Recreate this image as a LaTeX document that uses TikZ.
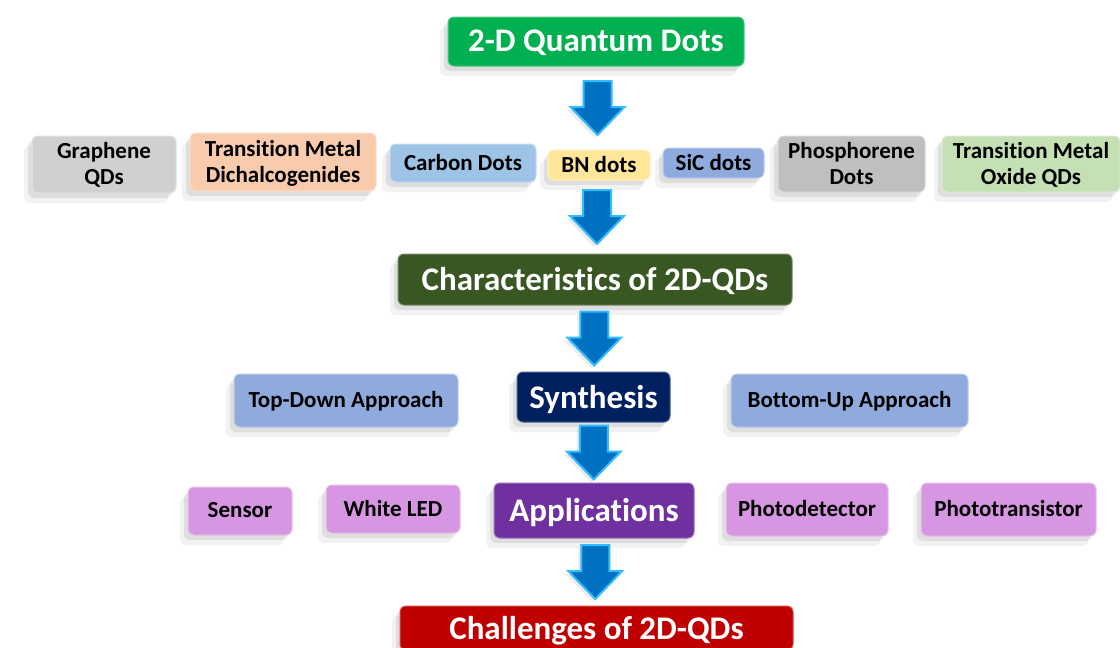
\documentclass[tikz,border=0pt]{standalone}
\usepackage{fontspec}
\setmainfont{Carlito}[Ligatures=NoCommon]
\usetikzlibrary{shadows,calc}

\definecolor{qdgreen}{RGB}{0,176,80}
\definecolor{qdgray}{RGB}{208,208,208}
\definecolor{qdgraydark}{RGB}{191,191,191}
\definecolor{qdpeach}{RGB}{248,203,173}
\definecolor{qdsky}{RGB}{157,195,230}
\definecolor{qdyellow}{RGB}{255,230,153}
\definecolor{qdsteel}{RGB}{143,170,220}
\definecolor{qdmint}{RGB}{197,224,180}
\definecolor{qdforest}{RGB}{56,87,35}
\definecolor{qdnavy}{RGB}{0,32,96}
\definecolor{qdpink}{RGB}{215,150,225}
\definecolor{qdpurple}{RGB}{112,48,160}
\definecolor{qdred}{RGB}{192,0,0}
\definecolor{arrowfill}{RGB}{0,112,192}
\definecolor{arrowrim}{RGB}{51,187,255}

% block arrow between two stacked nodes
\newcommand{\flowarrow}[2]{%
  \coordinate (#1-#2) at ($(#1.south)!0.5!(#2.north)$);
  \draw[flowarrow] (#1-#2) ++(-14,-27) -- ++(28,0) -- ++(0,26) -- ++(13,0)
    -- ++(-27,28) -- ++(-27,-28) -- ++(13,0) -- cycle;}

\begin{document}
\begin{tikzpicture}
[x=1pt, y=-1pt,
box/.style={rounded corners=6pt, align=center, inner sep=0pt,
  font=\fontsize{23}{26}\selectfont\bfseries, text=black,
  drop shadow={shadow xshift=-4pt, shadow yshift=-5pt, opacity=0.18},
  drop shadow={shadow xshift=-8pt, shadow yshift=-10pt, opacity=0.1}},
sub/.style={box, fill=#1, draw=#1!60!white, line width=1pt, text depth=2pt},
head/.style={box, fill=#1, draw=#1!70!white, line width=1pt, text depth=1pt,
  text=white, font=\fontsize{33}{36}\selectfont\bfseries},
flowarrow/.style={fill=arrowfill, draw=arrowrim, line width=2pt,
  drop shadow={shadow xshift=-3pt, shadow yshift=-3pt, opacity=0.15}}]
\useasboundingbox (0,0) rectangle (1120,648);
% main column
\node[head=qdgreen, minimum width=296, minimum height=49] (top) at (596,41.5) {2-D Quantum Dots};
\node[head=qdforest, minimum width=394, minimum height=51] (char) at (595,279.5) {Characteristics of 2D-QDs};
\node[head=qdnavy, minimum width=153, minimum height=50] (syn) at (593.5,397) {Synthesis};
\node[head=qdpurple, minimum width=200, minimum height=55] (app) at (594,510.5) {Applications};
\node[head=qdred, minimum width=393, minimum height=44, text depth=0pt] (chal) at (596.5,628) {Challenges of 2D-QDs};
% kinds of dots
\node[sub=qdgray, minimum width=144, minimum height=57] (gra) at (104,164.5) {Graphene\\QDs};
\node[sub=qdpeach, minimum width=186, minimum height=58] (tmd) at (283,162) {Transition Metal\\Dichalcogenides};
\node[sub=qdsky, minimum width=146, minimum height=38] (cd) at (463,163) {Carbon Dots};
\node[sub=qdyellow, minimum width=102, minimum height=30] (bn) at (599,165) {BN dots};
\node[sub=qdsteel, minimum width=101, minimum height=30] (sic) at (713.5,163) {SiC dots};
\node[sub=qdgraydark, minimum width=147, minimum height=56] (pho) at (851.5,164) {Phosphorene\\Dots};
\node[sub=qdmint, minimum width=178, minimum height=56] (tmo) at (1031,164) {Transition Metal\\Oxide QDs};
% synthesis routes
\node[sub=qdsteel, minimum width=224, minimum height=53] (td) at (346,400.5) {Top-Down Approach};
\node[sub=qdsteel, minimum width=237, minimum height=53] (bu) at (849.5,400.5) {Bottom-Up Approach};
% applications
\node[sub=qdpink, minimum width=104, minimum height=48] (sen) at (240,511) {Sensor};
\node[sub=qdpink, minimum width=134, minimum height=48] (led) at (393,509) {White LED};
\node[sub=qdpink, minimum width=162, minimum height=53] (pd) at (807,509.5) {Photodetector};
\node[sub=qdpink, minimum width=175, minimum height=53] (pt) at (1008.5,509.5) {Phototransistor};
% arrows
\flowarrow{top}{bn}
\flowarrow{bn}{char}
\flowarrow{char}{syn}
\flowarrow{syn}{app}
\flowarrow{app}{chal}
\end{tikzpicture}
\end{document}
